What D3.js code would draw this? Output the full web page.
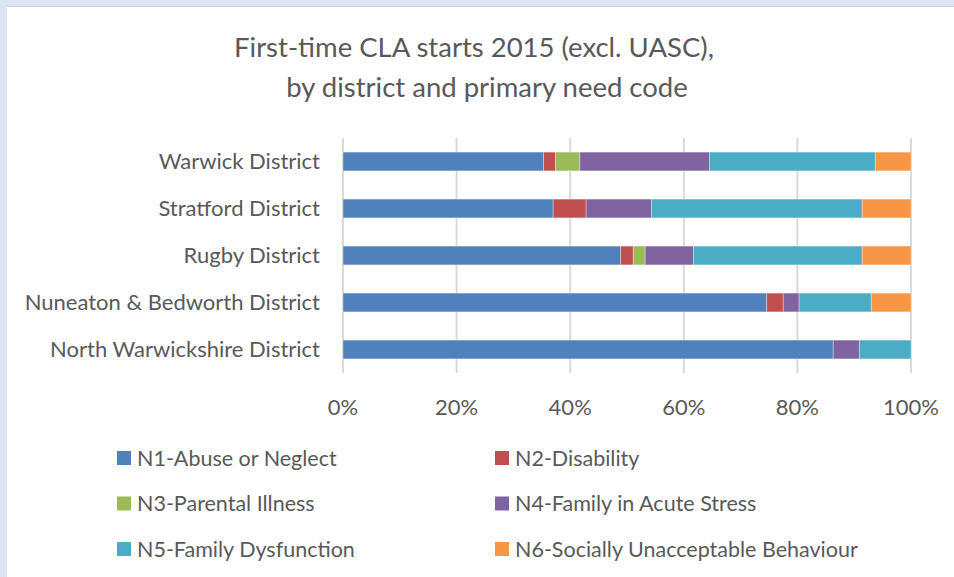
<!DOCTYPE html>
<html>
<head>
<meta charset="utf-8">
<script src="https://cdn.jsdelivr.net/npm/d3@7"></script>
<style>
  body { margin: 0; background: #dce6f2; }
  svg { display: block; }
</style>
</head>
<body>
<script>
// districts, top to bottom
var districts = ["Warwick District", "Stratford District", "Rugby District",
    "Nuneaton & Bedworth District", "North Warwickshire District"];

// share of first-time starts (%) per need code
var n1 = [35.3, 37.0, 48.9, 74.6, 86.3];
var n2 = [2.1, 5.8, 2.2, 2.9, 0];
var n3 = [4.3, 0, 2.1, 0, 0];
var n4 = [22.8, 11.5, 8.5, 2.8, 4.6];
var n5 = [29.2, 37.1, 29.7, 12.7, 9.1];
var n6 = [6.3, 8.6, 8.6, 7.0, 0];

var seriesNames = ["N1-Abuse or Neglect", "N2-Disability", "N3-Parental Illness",
    "N4-Family in Acute Stress", "N5-Family Dysfunction", "N6-Socially Unacceptable Behaviour"];
var seriesColors = ["#4f81bd", "#c0504d", "#9bbb59", "#8064a2", "#4bacc6", "#f79646"];
var xTicks = [0, 0.2, 0.4, 0.6, 0.8, 1];

var width = 954, height = 577;
var font = "Lato, 'Open Sans', sans-serif";
var textColor = "#595959";

var svg = d3.select("body").append("svg")
    .attr("width", width)
    .attr("height", height);

// white chart area inside the pale frame
svg.append("rect")
    .attr("x", 7).attr("y", 7)
    .attr("width", width - 7).attr("height", height - 7)
    .style("fill", "#ffffff");
svg.append("line")
    .attr("x1", 7).attr("x2", width)
    .attr("y1", 6.5).attr("y2", 6.5)
    .style("stroke", "#d0d6de");

// build rows for the stack
var rows = districts.map(function (d, i) {
    var row = { district: d };
    var vals = [n1[i], n2[i], n3[i], n4[i], n5[i], n6[i]];
    var total = d3.sum(vals);
    seriesNames.forEach(function (s, j) { row[s] = vals[j] / total; });
    return row;
});

var stacked = d3.stack().keys(seriesNames)(rows);

var x = d3.scaleLinear().domain([0, 1]).range([343, 911]);
var y = d3.scaleBand().domain(districts).range([138, 373]).paddingInner(0.6).paddingOuter(0.3);

// gridlines
svg.append("g").selectAll("line")
    .data(xTicks)
    .enter()
    .append("line")
    .attr("x1", function (d) { return x(d); })
    .attr("x2", function (d) { return x(d); })
    .attr("y1", 138)
    .attr("y2", 373)
    .style("stroke", "#d9d9d9")
    .style("stroke-width", 2);

// bars
var groups = svg.append("g").selectAll("g")
    .data(stacked)
    .enter()
    .append("g")
    .style("fill", function (d, i) { return seriesColors[i]; });

groups.selectAll("rect")
    .data(function (d) { return d; })
    .enter()
    .append("rect")
    .attr("x", function (d) { return x(d[0]); })
    .attr("y", function (d) { return y(d.data.district); })
    .attr("width", function (d) { return x(d[1]) - x(d[0]); })
    .attr("height", y.bandwidth())
    .style("stroke", "rgba(255,255,255,0.45)")
    .style("stroke-width", 0.75);

// category labels
svg.append("g").selectAll("text")
    .data(districts)
    .enter()
    .append("text")
    .attr("x", 320)
    .attr("y", function (d) { return y(d) + y.bandwidth() / 2; })
    .attr("dy", "0.35em")
    .attr("text-anchor", "end")
    .attr("font-family", font)
    .attr("font-size", "22px")
    .attr("fill", textColor)
    .text(function (d) { return d; });

// x axis labels
svg.append("g").selectAll("text")
    .data(xTicks)
    .enter()
    .append("text")
    .attr("x", function (d) { return x(d); })
    .attr("y", 415)
    .attr("text-anchor", "middle")
    .attr("font-family", font)
    .attr("font-size", "22px")
    .attr("fill", textColor)
    .text(d3.format(".0%"));

// title
var titleLines = [
    { text: "First-time CLA starts 2015 (excl. UASC),", x: 474, y: 57 },
    { text: "by district and primary need code", x: 487, y: 97 }];
svg.append("g").selectAll("text")
    .data(titleLines)
    .enter()
    .append("text")
    .attr("x", function (d) { return d.x; })
    .attr("y", function (d) { return d.y; })
    .attr("text-anchor", "middle")
    .attr("font-family", font)
    .attr("font-size", "27.5px")
    .attr("fill", textColor)
    .text(function (d) { return d.text; });

// legend, two columns
var legend = svg.append("g").selectAll("g")
    .data(seriesNames)
    .enter()
    .append("g")
    .attr("transform", function (d, i) {
        var lx = i % 2 === 0 ? 117 : 495;
        var ly = 458 + Math.floor(i / 2) * 45.5;
        return "translate(" + lx + "," + ly + ")";
    });

legend.append("rect")
    .attr("x", 0).attr("y", -7)
    .attr("width", 14).attr("height", 14)
    .style("fill", function (d, i) { return seriesColors[i]; });

legend.append("text")
    .attr("x", 20)
    .attr("dy", "0.35em")
    .attr("font-family", font)
    .attr("font-size", "21.5px")
    .attr("fill", textColor)
    .text(function (d) { return d; });
</script>
</body>
</html>
